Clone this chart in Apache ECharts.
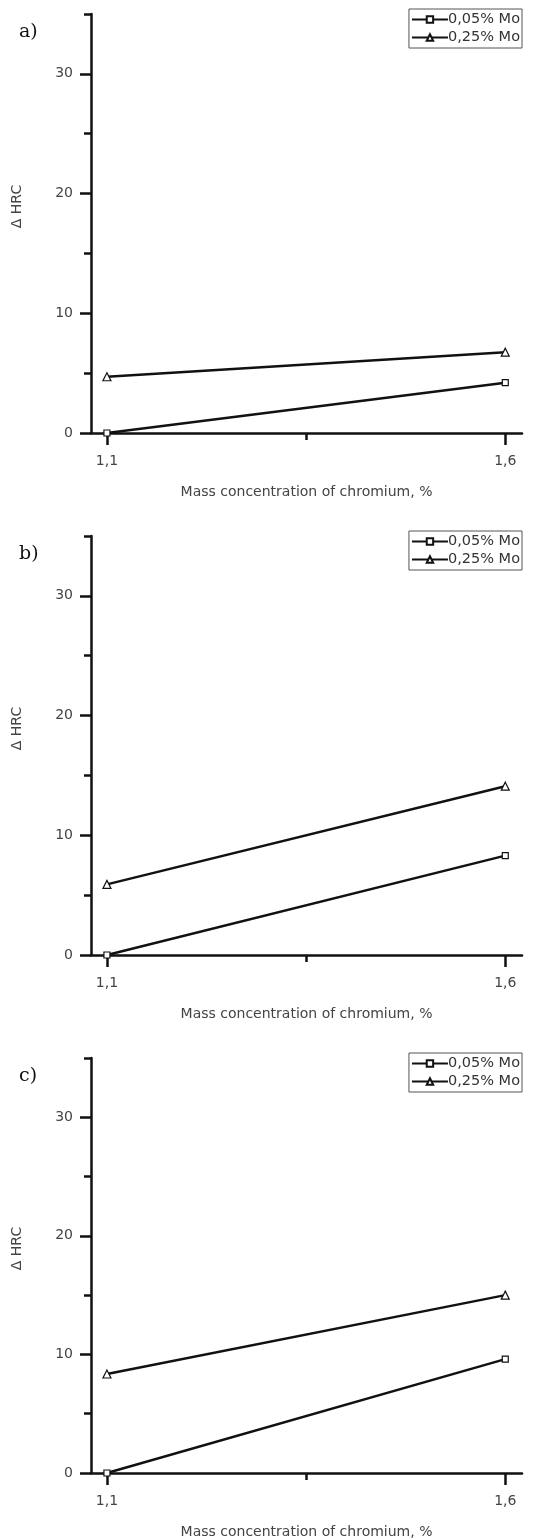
<!DOCTYPE html>
<html>
<head>
<meta charset="utf-8">
<style>
    html, body { margin: 0; padding: 0; background: #fff; }
    #chart { width: 535px; height: 1540px; }
</style>
</head>
<body>
<div id="chart"></div>
<script src="https://cdn.jsdelivr.net/npm/echarts@6/dist/echarts.min.js"></script>
<script>
    // chromium content on the x axis
    var chromium = [1.1, 1.6];
    var xTickLabels = [1.1, 1.6];
    var yTickLabels = [0, 10, 20, 30];
    var yMinorTicks = [5, 15, 25, 35];
    var seriesNames = ['0,05% Mo', '0,25% Mo'];
    var panelLetters = ['a)', 'b)', 'c)'];

    // delta HRC, per panel
    var lowMo_a = [0, 4.2];
    var highMo_a = [4.7, 6.75];
    var lowMo_b = [0, 8.3];
    var highMo_b = [5.9, 14.1];
    var lowMo_c = [0, 9.6];
    var highMo_c = [8.35, 15.0];

    var panels = [
        [lowMo_a, highMo_a],
        [lowMo_b, highMo_b],
        [lowMo_c, highMo_c]
    ];

    var chart = echarts.init(document.getElementById('chart'));
    var textColor = '#444';
    var lineColor = '#111';
    var step = 522;   // vertical distance between panels
    var top0 = 14;
    var gridH = 419;

    var grids = [], xAxes = [], yAxes = [], series = [], legends = [], titles = [];

    panels.forEach(function (p, i) {
        var top = top0 + i * step;
        grids.push({left: 91, right: 13, top: top, height: gridH});

        // main x axis
        xAxes.push({
            type: 'value', gridIndex: i, position: 'bottom', min: 1.08, max: 1.621,
            axisLine: {onZero: false, lineStyle: {color: lineColor, width: 2.5}},
            axisTick: {show: true, customValues: xTickLabels, length: 12, lineStyle: {color: lineColor, width: 2.5}},
            axisLabel: {
                customValues: xTickLabels, color: textColor, fontSize: 14, margin: 21,
                fontFamily: 'DejaVu Sans',
                formatter: function (v) { return String(v).replace('.', ','); }
            },
            splitLine: {show: false},
            name: 'Mass concentration of chromium, %',
            nameLocation: 'middle', nameGap: 52,
            nameTextStyle: {color: textColor, fontSize: 14, fontFamily: 'DejaVu Sans'}
        });
        // middle tick only
        xAxes.push({
            type: 'value', gridIndex: i, position: 'bottom', min: 1.08, max: 1.621,
            axisLine: {show: false, onZero: false},
            axisTick: {show: true, customValues: [1.35], length: 7, lineStyle: {color: lineColor, width: 2.5}},
            axisLabel: {show: false},
            splitLine: {show: false}
        });

        yAxes.push({
            type: 'value', gridIndex: i, position: 'left', min: 0, max: 35,
            axisLine: {show: true, lineStyle: {color: lineColor, width: 2.5}},
            axisTick: {show: true, customValues: yTickLabels, length: 11, lineStyle: {color: lineColor, width: 2.5}},
            axisLabel: {customValues: yTickLabels, color: textColor, fontSize: 14, margin: 18, fontFamily: 'DejaVu Sans'},
            splitLine: {show: false},
            name: 'Δ HRC', nameLocation: 'middle', nameGap: 67,
            nameTextStyle: {color: textColor, fontSize: 14, fontFamily: 'DejaVu Sans', padding: [0, 0, 0, 34]}
        });
        yAxes.push({
            type: 'value', gridIndex: i, position: 'left', min: 0, max: 35,
            axisLine: {show: false},
            axisTick: {show: true, customValues: yMinorTicks, length: 7, lineStyle: {color: lineColor, width: 2.5}},
            axisLabel: {show: false},
            splitLine: {show: false}
        });

        series.push({
            name: seriesNames[0], type: 'line', xAxisIndex: i * 2, yAxisIndex: i * 2,
            data: chromium.map(function (x, k) { return [x, p[0][k]]; }),
            symbol: 'rect', symbolSize: 6, showAllSymbol: true,
            lineStyle: {color: lineColor, width: 2.5},
            itemStyle: {color: '#fff', borderColor: lineColor, borderWidth: 1.2}
        });
        series.push({
            name: seriesNames[1], type: 'line', xAxisIndex: i * 2, yAxisIndex: i * 2,
            data: chromium.map(function (x, k) { return [x, p[1][k]]; }),
            symbol: 'triangle', symbolSize: 8,
            lineStyle: {color: lineColor, width: 2.5},
            itemStyle: {color: '#fff', borderColor: lineColor, borderWidth: 1.2}
        });

        legends.push({
            data: seriesNames, orient: 'vertical',
            right: 13, top: top - 5,
            itemWidth: 36, itemHeight: 8, itemGap: 3,
            padding: [3, 2, 3, 2],
            borderColor: '#555', borderWidth: 1,
            textStyle: {color: '#333', fontSize: 14.5, fontFamily: 'DejaVu Sans', padding: [0, 0, 0, -5]}
        });

        titles.push({
            text: panelLetters[i], left: 14, top: top + 4,
            textStyle: {fontFamily: 'DejaVu Serif', fontWeight: 'normal', fontSize: 19, color: '#111'}
        });
    });

    chart.setOption({
        animation: false,
        title: titles,
        legend: legends,
        grid: grids,
        xAxis: xAxes,
        yAxis: yAxes,
        series: series
    });
</script>
</body>
</html>
